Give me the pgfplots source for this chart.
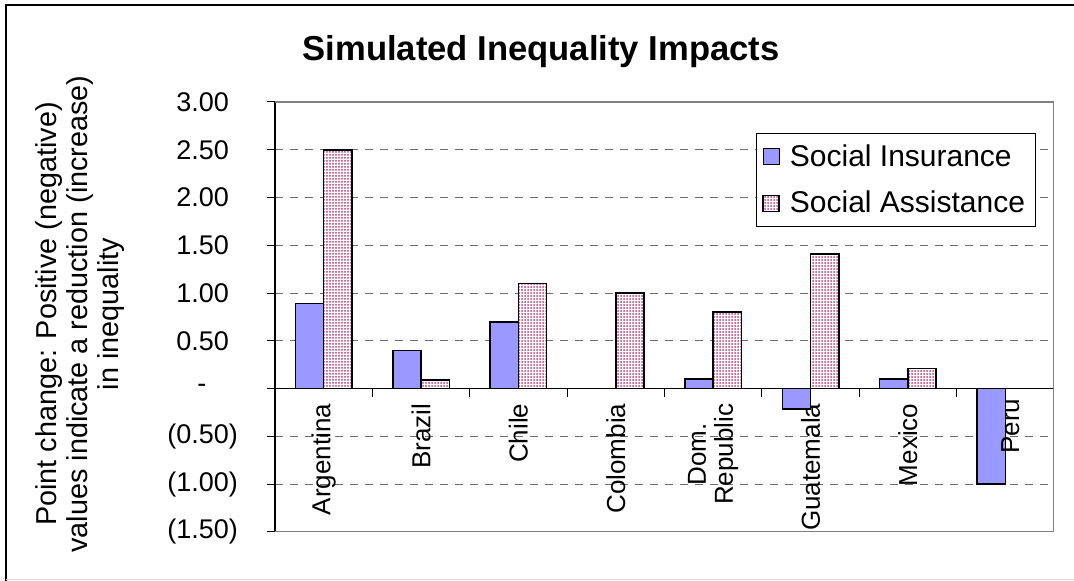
\documentclass[border=0pt]{standalone}
\usepackage{pgfplots}
\pgfplotsset{compat=1.18}
\usepackage{fontspec}
\setmainfont{Liberation Sans}
\usetikzlibrary{patterns.meta}
\definecolor{siblue}{RGB}{153,153,255}
\definecolor{sadot}{RGB}{185,60,125}
\definecolor{gridgray}{RGB}{110,110,110}
\definecolor{framegray}{RGB}{128,128,128}
\begin{document}
\begin{tikzpicture}
\begin{axis}[
  scale only axis,
  width=389.5pt, height=215pt,
  xmin=-0.5, xmax=7.5, ymin=-1.5, ymax=3,
  enlargelimits=false,
  axis x line=middle, axis y line=left,
  axis line style={-, black, line width=0.6pt},
  ybar=0pt, bar width=0.29,
  xtick={0,1,2,3,4,5,6,7},
  xticklabels={Argentina,Brazil,Chile,Colombia,{Dom.\\Republic},Guatemala,Mexico,{}},
  minor xtick={0.5,1.5,2.5,3.5,4.5,5.5,6.5},
  major x tick style={draw=none},
  tick align=outside,
  major tick length=4pt, minor tick length=4pt,
  tick style={black, line width=0.5pt},
  xticklabel style={rotate=90, anchor=east, align=center, font=\fontsize{13}{13.5}\selectfont},
  ytick={-1.5,-1,-0.5,0,0.5,1,1.5,2,2.5,3},
  yticklabels={(1.50),(1.00),(0.50),{-\hphantom{0.)}},0.50\hphantom{)},1.00\hphantom{)},1.50\hphantom{)},2.00\hphantom{)},2.50\hphantom{)},3.00\hphantom{)}},
  yticklabel style={font=\fontsize{13.5}{14}\selectfont, xshift=-11pt},
  ymajorgrids,
  major grid style={gridgray, dash pattern=on 4pt off 3.5pt, line width=0.5pt},
  legend style={at={(0.6175,0.928)}, anchor=north west, draw=black, line width=0.5pt,
    font=\fontsize{15}{15.5}\selectfont, inner xsep=3pt, inner ysep=3.5pt, row sep=7pt},
  legend cell align=left,
  legend image code/.code={\draw[#1, line width=0.6pt] (0pt,-4pt) rectangle (8pt,4pt); \path (11pt,0pt);},
]
\draw[framegray, line width=1pt] (rel axis cs:0,0) -- (rel axis cs:1,0) -- (rel axis cs:1,1) -- (rel axis cs:0,1);
\addplot[draw=black, line width=0.8pt, fill=siblue] coordinates {(0,0.89) (1,0.40) (2,0.70) (4,0.10) (5,-0.21) (6,0.10) (7,-1.00)};
\addplot[draw=black, line width=0.8pt, preaction={fill=white}, pattern={Dots[distance=1.5pt, radius=0.5pt]}, pattern color=sadot] coordinates {(0,2.50) (1,0.09) (2,1.10) (3,1.00) (4,0.80) (5,1.41) (6,0.21)};
\legend{Social Insurance, Social Assistance}
\node[rotate=90, anchor=east, font=\fontsize{13}{13.5}\selectfont, yshift=-2.5pt, xshift=-1.5pt] at (axis cs:7,0) {Peru};
\end{axis}
\node[anchor=base, font=\fontsize{17.3}{20}\selectfont\bfseries] at (133pt,235.5pt) {Simulated Inequality Impacts};
\node[rotate=90, align=center, font=\fontsize{14.4}{15.5}\selectfont] at (-97.5pt,109pt) {Point change: Positive (negative)\\values indicate a reduction (increase)\\in inequality};
\draw[black, line width=1pt] (-134.5pt,-24.5pt) -- (-134.5pt,263.5pt) -- (399.5pt,263.5pt);
\draw[black!15, line width=0.5pt] (-134.5pt,-24pt) -- (399.5pt,-24pt);
\pgfresetboundingbox
\path[use as bounding box] (-137.5pt,-24.5pt) rectangle (399.5pt,266pt);
\end{tikzpicture}
\end{document}
